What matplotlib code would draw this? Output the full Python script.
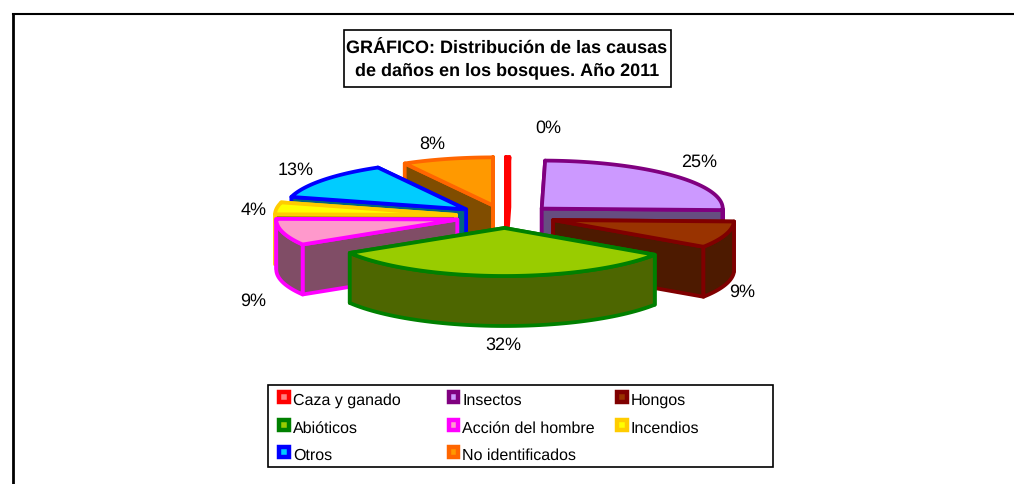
"""Exploded 3D-look pie of forest damage causes, 2011."""
import numpy as np
import matplotlib
matplotlib.use("Agg")
import matplotlib.pyplot as plt
from matplotlib.colors import to_rgb
from matplotlib.patches import Polygon, Rectangle

plt.rcParams["font.family"] = ["Liberation Sans", "DejaVu Sans"]
plt.rcParams["text.hinting"] = "no_hinting"
plt.rcParams["text.hinting_factor"] = 1

causes = ["Caza y ganado", "Insectos", "Hongos", "Abióticos",
          "Acción del hombre", "Incendios", "Otros", "No identificados"]
shares = [0.3, 25.2, 8.9, 31.9, 8.9, 4.0, 12.7, 8.1]
top_colors = ["#FF8080", "#CC99FF", "#993300", "#99CC00",
              "#FF99CC", "#FFFF00", "#00CCFF", "#FF9900"]
edge_colors = ["#FF0000", "#800080", "#800000", "#008000",
               "#FF00FF", "#FFCC00", "#0000FF", "#FF6600"]

W, H = 1014, 485
CX, CY = 505.5, 217.5    # pie centre, px
RX, RY = 181, 48         # top ellipse radii
DEPTH = 50
EXPLODE_X, EXPLODE_Y = 50, 11.5
LW = 2.7

label_xy = [(548, 128), (699, 162), (742, 292), (503, 345),
            (253, 301), (254, 210), (296, 170), (432, 144)]
legend_cols = [277, 446.5, 615]
legend_rows = [399, 427, 454]


def ell(theta, ox, oy):
    # clockwise from north, on the tilted plane
    return np.column_stack([ox + RX * np.sin(theta), oy - RY * np.cos(theta)])


def face(ax, pts, fc, ec, z):
    ax.add_patch(Polygon(pts, closed=True, fc=fc, ec=ec, lw=LW, joinstyle="round", zorder=z))


def draw_slice(ax, a0, a1, top, edge, z):
    mid = (a0 + a1) / 2
    ox = CX + EXPLODE_X * np.sin(mid)
    oy = CY - EXPLODE_Y * np.cos(mid)
    wall = tuple(c / 2 for c in to_rgb(top))
    down = np.array([0, DEPTH])
    apex = np.array([[ox, oy]])

    # radial walls: start wall faces south only past 180 deg, end wall only before it
    walls = []
    for ang, faces_south in ((a0, np.sin(a0) < 0), (a1, np.sin(a1) > 0)):
        p = ell(np.array([ang]), ox, oy)
        quad = np.vstack([apex, p, p + down, apex + down])
        walls.append((faces_south, quad))
    walls.sort(key=lambda w: w[0])
    for i, (_, quad) in enumerate(walls):
        face(ax, quad, wall, edge, z + i * 0.1)

    # outer rim, front half only
    lo, hi = max(a0, np.pi / 2), min(a1, 3 * np.pi / 2)
    if hi > lo:
        arc = ell(np.linspace(lo, hi, 60), ox, oy)
        face(ax, np.vstack([arc, (arc + down)[::-1]]), wall, edge, z + 0.3)

    arc = ell(np.linspace(a0, a1, 80), ox, oy)
    face(ax, np.vstack([apex, arc]), top, edge, z + 0.4)


fig = plt.figure(figsize=(W / 100, H / 100), dpi=100)
ax = fig.add_axes([0, 0, 1, 1])
ax.set_xlim(0, W)
ax.set_ylim(H, 0)
ax.axis("off")

# outer chart frame, only left and top edges show in the crop
ax.plot([12.5, 12.5], [H, 15], color="black", lw=2.0, zorder=1, solid_capstyle="projecting")
ax.plot([12.5, W], [15, 15], color="black", lw=1.5, zorder=1)

edges = np.cumsum([0] + shares) / sum(shares) * 2 * np.pi
mids = (edges[:-1] + edges[1:]) / 2
# back slices first
for rank, i in enumerate(np.argsort(-np.cos(mids))):
    draw_slice(ax, edges[i], edges[i + 1], top_colors[i], edge_colors[i], 2 + rank)

for share, (x, y) in zip(shares, label_xy):
    ax.text(x, y, f"{share:.0f}%", ha="center", va="center", fontsize=13, color="black", zorder=20)

# title box
ax.add_patch(Rectangle((343.5, 30.5), 327, 57, fc="white", ec="black", lw=1.2, zorder=20))
ax.text(507, 60, "GRÁFICO: Distribución de las causas\nde daños en los bosques. Año 2011",
        ha="center", va="center", fontsize=12.7, fontweight="bold", linespacing=1.35, zorder=21)

# legend box
ax.add_patch(Rectangle((267.5, 385.5), 505, 82, fc="white", ec="black", lw=1.2, zorder=20))
for i, name in enumerate(causes):
    x = legend_cols[i % 3]
    y = legend_rows[i // 3]
    ax.add_patch(Rectangle((x + 2, y - 6), 9.5, 9.5, fc=top_colors[i], ec=edge_colors[i],
                           lw=3.2, zorder=21))
    ax.text(x + 16, y + 6, name, ha="left", va="baseline", fontsize=11.2, zorder=21)

fig.savefig("out.png", dpi=100)
